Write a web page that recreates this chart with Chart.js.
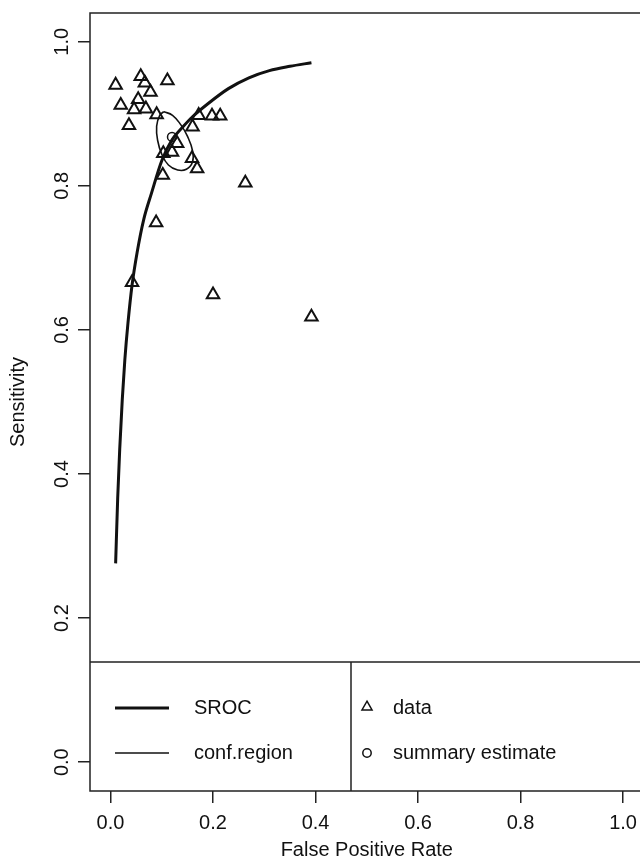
<!DOCTYPE html>
<html>
<head>
<meta charset="utf-8">
<script src="https://cdn.jsdelivr.net/npm/chart.js@4.4.1/dist/chart.umd.min.js"></script>
<style>
  html, body { margin: 0; padding: 0; background: #fff; overflow: hidden; }
</style>
</head>
<body>
<canvas id="srocChart" width="640" height="864"></canvas>
<script>
// study points (false positive rate, sensitivity)
const fprData = [0.010, 0.059, 0.067, 0.111, 0.078, 0.020, 0.054, 0.046, 0.069, 0.090,
  0.036, 0.172, 0.198, 0.214, 0.160, 0.130, 0.103, 0.120, 0.159, 0.169,
  0.102, 0.089, 0.263, 0.042, 0.200, 0.392];
const sensData = [0.940, 0.952, 0.943, 0.946, 0.930, 0.912, 0.920, 0.906, 0.907, 0.899,
  0.884, 0.898, 0.897, 0.897, 0.882, 0.859, 0.845, 0.847, 0.838, 0.824,
  0.815, 0.749, 0.804, 0.666, 0.649, 0.618];

const summaryFpr = [0.120];
const summarySens = [0.868];

// SROC curve
const srocFpr = [0.010, 0.014, 0.018, 0.023, 0.028, 0.034, 0.042, 0.052, 0.065, 0.080,
  0.100, 0.120, 0.140, 0.160, 0.190, 0.230, 0.270, 0.310, 0.350, 0.392];
const srocSens = [0.276, 0.366, 0.435, 0.504, 0.559, 0.609, 0.662, 0.708, 0.754, 0.790,
  0.835, 0.864, 0.881, 0.896, 0.914, 0.935, 0.950, 0.960, 0.966, 0.971];

// confidence region outline
const confFpr = [0.104, 0.121, 0.137, 0.150, 0.160, 0.160, 0.148, 0.131, 0.113, 0.100,
  0.092, 0.090, 0.096, 0.104];
const confSens = [0.903, 0.898, 0.885, 0.869, 0.849, 0.833, 0.823, 0.822, 0.829, 0.844,
  0.863, 0.883, 0.898, 0.903];

const xTickValues = [0, 0.2, 0.4, 0.6, 0.8, 1.0];
const yTickValues = [0, 0.2, 0.4, 0.6, 0.8, 1.0];
const xTickLabels = ["0.0", "0.2", "0.4", "0.6", "0.8", "1.0"];
const yTickLabels = ["0.0", "0.2", "0.4", "0.6", "0.8", "1.0"];
const xTitle = "False Positive Rate";
const yTitle = "Sensitivity";
const lineLegend = ["SROC", "conf.region"];
const pointLegend = ["data", "summary estimate"];

const FONT = '20px "Liberation Sans", Arial, Helvetica, sans-serif';
const INK = "#111";

function toPoints(xs, ys) {
  return xs.map((x, i) => ({ x: x, y: ys[i] }));
}

// hollow triangle like R's pch 2
function strokeTriangle(ctx, x, y, r) {
  ctx.beginPath();
  for (let k = 0; k < 3; k++) {
    const ang = k * 2 * Math.PI / 3;
    const px = x + Math.sin(ang) * r;
    const py = y - Math.cos(ang) * r;
    if (k === 0) ctx.moveTo(px, py); else ctx.lineTo(px, py);
  }
  ctx.closePath();
  ctx.stroke();
}

// R style frame, tick labels, titles and legend box
const rFramePlugin = {
  id: "rFrame",
  afterDraw(chart) {
    const { ctx, chartArea: a, scales } = chart;
    ctx.save();
    ctx.fillStyle = INK;
    ctx.font = FONT;

    // x tick labels and title (plot region runs past the right edge)
    const plotCenter = (scales.x.getPixelForValue(-0.04) + scales.x.getPixelForValue(1.04)) / 2;
    ctx.textAlign = "center";
    ctx.textBaseline = "middle";
    xTickValues.forEach((v, i) => {
      ctx.fillText(xTickLabels[i], scales.x.getPixelForValue(v), a.bottom + 32);
    });
    ctx.fillText(xTitle, plotCenter, a.bottom + 59);

    // y tick labels and title, rotated like R
    yTickValues.forEach((v, i) => {
      ctx.save();
      ctx.translate(a.left - 28, scales.y.getPixelForValue(v));
      ctx.rotate(-Math.PI / 2);
      ctx.fillText(yTickLabels[i], 0, 0);
      ctx.restore();
    });
    ctx.save();
    ctx.translate(18, (a.top + a.bottom) / 2);
    ctx.rotate(-Math.PI / 2);
    ctx.fillText(yTitle, 0, 0);
    ctx.restore();

    // legend
    const top = 662, mid = 351;
    const rows = [708, 753];
    ctx.fillStyle = "#fff";
    ctx.fillRect(a.left, top, a.right - a.left, a.bottom - top);
    ctx.strokeStyle = "#222";
    ctx.lineWidth = 1.5;
    ctx.beginPath();
    ctx.moveTo(a.left, top);
    ctx.lineTo(a.right, top);
    ctx.moveTo(mid, top);
    ctx.lineTo(mid, a.bottom);
    ctx.stroke();

    ctx.fillStyle = INK;
    ctx.textAlign = "left";
    ctx.strokeStyle = INK;
    [3, 1.5].forEach((w, i) => {
      ctx.lineWidth = w;
      ctx.beginPath();
      ctx.moveTo(115, rows[i]);
      ctx.lineTo(169, rows[i]);
      ctx.stroke();
      ctx.fillText(lineLegend[i], 194, rows[i]);
    });

    ctx.lineWidth = 1.5;
    strokeTriangle(ctx, 367, rows[0] - 1, 5.8);
    ctx.beginPath();
    ctx.arc(367, rows[1], 4.2, 0, Math.PI * 2);
    ctx.stroke();
    pointLegend.forEach((t, i) => ctx.fillText(t, 393, rows[i]));

    // plot box: left, top, bottom (right side is off the page)
    ctx.strokeStyle = "#222";
    ctx.lineWidth = 1.5;
    ctx.beginPath();
    ctx.moveTo(a.right + 2, a.top);
    ctx.lineTo(a.left, a.top);
    ctx.lineTo(a.left, a.bottom);
    ctx.lineTo(a.right + 2, a.bottom);
    ctx.stroke();
    ctx.restore();
  }
};

const gridStyle = {
  display: true,
  drawOnChartArea: false,
  drawTicks: true,
  tickLength: 12,
  color: "#222",
  lineWidth: 1.5
};

document.addEventListener("DOMContentLoaded", function () {
  const ctx = document.getElementById("srocChart").getContext("2d");
  new Chart(ctx, {
    type: "scatter",
    data: {
      datasets: [
        {
          label: "summary estimate",
          data: toPoints(summaryFpr, summarySens),
          pointStyle: "circle",
          pointRadius: 4.5,
          borderWidth: 1.5,
          borderColor: INK,
          backgroundColor: "transparent"
        },
        {
          label: "data",
          data: toPoints(fprData, sensData),
          pointStyle: "triangle",
          pointRadius: 7.2,
          borderWidth: 2,
          borderColor: INK,
          backgroundColor: "transparent"
        },
        {
          label: "conf.region",
          data: toPoints(confFpr, confSens),
          showLine: true,
          pointRadius: 0,
          borderWidth: 1.6,
          borderColor: INK,
          tension: 0.45
        },
        {
          label: "SROC",
          data: toPoints(srocFpr, srocSens),
          showLine: true,
          pointRadius: 0,
          borderWidth: 3,
          borderColor: INK,
          cubicInterpolationMode: "monotone"
        }
      ]
    },
    options: {
      responsive: false,
      animation: false,
      layout: { autoPadding: false, padding: { left: 0, right: 0, top: 13, bottom: 0 } },
      plugins: {
        legend: { display: false },
        tooltip: { enabled: false }
      },
      scales: {
        x: {
          type: "linear",
          min: -0.04,
          max: 1.033,
          grid: gridStyle,
          border: { display: false },
          ticks: { display: false },
          afterBuildTicks: (scale) => { scale.ticks = xTickValues.map((v) => ({ value: v })); },
          afterFit: (scale) => { scale.height = 73; }
        },
        y: {
          type: "linear",
          min: -0.04,
          max: 1.04,
          grid: gridStyle,
          border: { display: false },
          ticks: { display: false },
          afterBuildTicks: (scale) => { scale.ticks = yTickValues.map((v) => ({ value: v })); },
          afterFit: (scale) => { scale.width = 90; }
        }
      }
    },
    plugins: [rFramePlugin]
  });
});
</script>
</body>
</html>
